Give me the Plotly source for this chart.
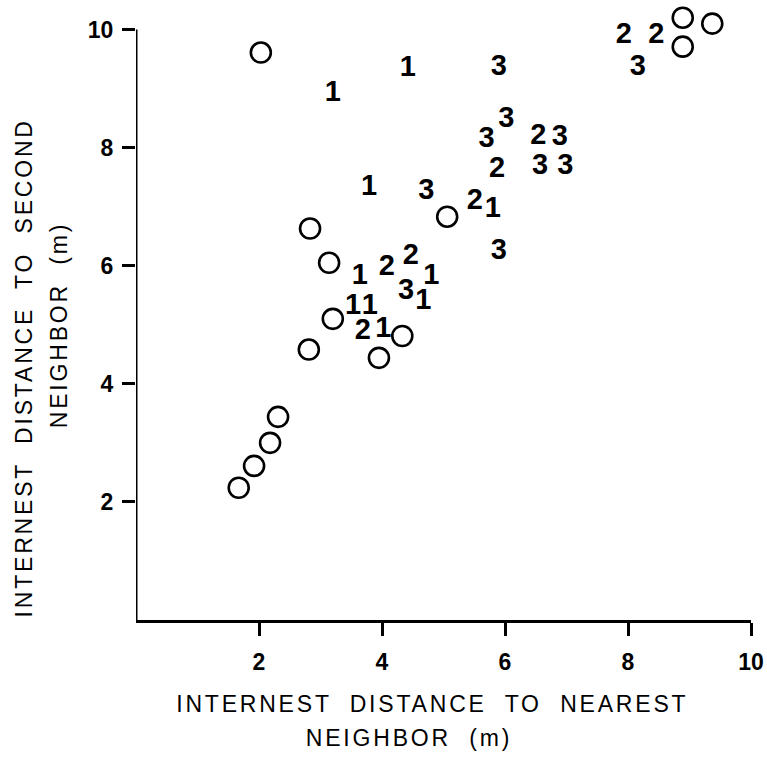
import plotly.graph_objects as go

# Open circles
circle_x = [2.03, 2.83, 3.14, 3.20, 2.81, 3.95, 4.33, 2.31, 2.18, 1.92, 1.67, 5.06, 8.89, 9.37, 8.89]
circle_y = [9.61, 6.63, 6.05, 5.10, 4.58, 4.44, 4.81, 3.44, 3.00, 2.61, 2.24, 6.83, 10.20, 10.10, 9.71]

# Points labelled "1"
g1_x = [4.42, 3.20, 3.79, 3.64, 4.80, 4.67, 3.53, 3.80, 4.02, 5.80]
g1_y = [9.34, 8.91, 7.32, 5.82, 5.82, 5.39, 5.31, 5.31, 4.92, 6.95]

# Points labelled "2"
g2_x = [4.08, 4.47, 3.69, 7.93, 8.46, 6.54, 5.87, 5.51]
g2_y = [5.96, 6.15, 4.88, 9.90, 9.90, 8.19, 7.63, 7.08]

# Points labelled "3"
g3_x = [4.72, 4.39, 8.16, 5.90, 6.02, 5.70, 6.89, 6.57, 6.98, 5.90]
g3_y = [7.25, 5.56, 9.35, 9.35, 8.47, 8.14, 8.17, 7.68, 7.68, 6.24]

tick_vals = [2, 4, 6, 8, 10]
tick_text = ["2", "4", "6", "8", "10"]

FONT = "Liberation Sans, Arial, Helvetica, sans-serif"

fig = go.Figure()
fig.add_trace(go.Scatter(
    x=circle_x, y=circle_y, mode="markers",
    marker=dict(symbol="circle-open", size=20, color="black", line=dict(width=2.6, color="black")),
    cliponaxis=False, showlegend=False, hoverinfo="skip"))

for gx, gy, lab in [(g1_x, g1_y, "1"), (g2_x, g2_y, "2"), (g3_x, g3_y, "3")]:
    fig.add_trace(go.Scatter(
        x=gx, y=gy, mode="text", text=[lab] * len(gx),
        textposition="middle center",
        textfont=dict(family=FONT, size=29, color="black", weight="bold"),
        cliponaxis=False, showlegend=False, hoverinfo="skip"))

axis_common = dict(
    tickvals=tick_vals, ticktext=tick_text,
    showgrid=False, zeroline=False,
    ticks="outside", ticklen=13, tickwidth=3, tickcolor="black",
    tickfont=dict(family=FONT, size=23, color="black", weight="bold"),
    fixedrange=True,
)

fig.update_xaxes(**axis_common, range=[0, 10], showline=True, linecolor="black", linewidth=3,
                 ticklabelstandoff=6)
fig.update_yaxes(**axis_common, range=[0, 10.5], showline=False, ticklabelstandoff=4)

# y axis line from 0 to 10 only
fig.add_shape(type="line", xref="x", yref="y", x0=0, x1=0, y0=-0.03, y1=10,
              line=dict(color="black", width=3))

L, R, T, B = 136, 16, 0, 140
pw = 767 - L - R
ph = 760 - T - B


def px_to_paper_x(px):
    return (px - L) / pw


def py_to_paper_y(py):
    return (760 - B - py) / ph


title_font = dict(family=FONT, size=23, color="black")
ann = []
ann.append(dict(text="INTERNEST  DISTANCE  TO  NEAREST", x=px_to_paper_x(432), y=py_to_paper_y(704),
                xref="paper", yref="paper", showarrow=False, font=title_font,
                xanchor="center", yanchor="middle"))
ann.append(dict(text="NEIGHBOR  (m)", x=px_to_paper_x(409), y=py_to_paper_y(738),
                xref="paper", yref="paper", showarrow=False, font=title_font,
                xanchor="center", yanchor="middle"))
ann.append(dict(text="INTERNEST  DISTANCE  TO  SECOND", x=px_to_paper_x(24), y=py_to_paper_y(368),
                xref="paper", yref="paper", showarrow=False, font=title_font, textangle=-90,
                xanchor="center", yanchor="middle"))
ann.append(dict(text="NEIGHBOR  (m)", x=px_to_paper_x(59), y=py_to_paper_y(325),
                xref="paper", yref="paper", showarrow=False, font=title_font, textangle=-90,
                xanchor="center", yanchor="middle"))

fig.update_layout(
    width=767, height=760,
    margin=dict(l=L, r=R, t=T, b=B),
    paper_bgcolor="white", plot_bgcolor="white",
    annotations=ann,
)

fig.write_html("out.html", config={"displayModeBar": False},
               post_script="document.querySelectorAll('.annotation-text').forEach(function(e){e.style.letterSpacing='2.8px';});")
